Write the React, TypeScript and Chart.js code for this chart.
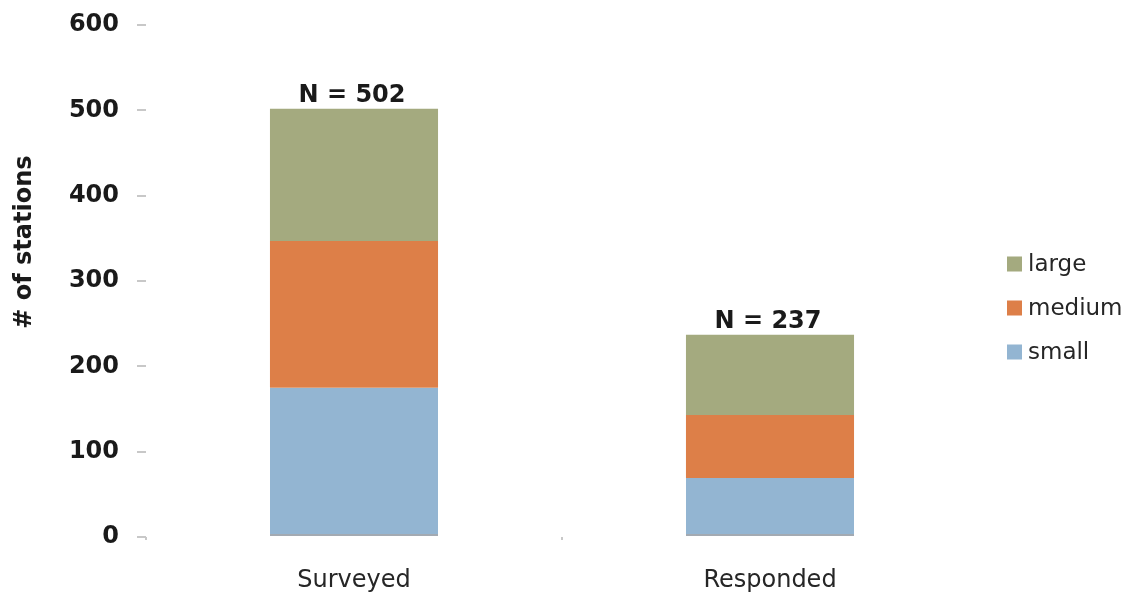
import { useEffect, useRef } from 'react';
import { Chart, registerables } from 'chart.js';

Chart.register(...registerables);

// Station counts by size class
const categories = ['Surveyed', 'Responded'];
const smallStations = [175, 69];
const mediumStations = [172, 74];
const largeStations = [155, 94];

const seriesNames = ['small', 'medium', 'large'];
const seriesColors = ['#93b5d2', '#dd7f48', '#a4aa7f'];

const yMin = 0;
const yMax = 600;
const yStep = 100;
const yTitle = '# of stations';

const FONT = '"DejaVu Sans", "Liberation Sans", sans-serif';

// "N = total" above each stacked column
const totalLabels = {
  id: 'totalLabels',
  afterDatasetsDraw(chart: any) {
    const { ctx, scales } = chart;
    const x = scales.x;
    const y = scales.y;
    ctx.save();
    ctx.font = `bold 24px ${FONT}`;
    ctx.fillStyle = '#1a1a1a';
    ctx.textAlign = 'center';
    ctx.textBaseline = 'alphabetic';
    categories.forEach((_, i) => {
      const total = chart.data.datasets.reduce(
        (sum: number, ds: any) => sum + (ds.data[i] as number),
        0
      );
      const px = x.getPixelForValue(i);
      const py = y.getPixelForValue(total);
      ctx.fillText(`N = ${total}`, px - 2, py - 7);
    });
    ctx.restore();
  },
};

// Rotated y-axis title
const yAxisTitle = {
  id: 'yAxisTitle',
  afterDraw(chart: any) {
    const { ctx, chartArea } = chart;
    ctx.save();
    ctx.translate(25, chartArea.top + (chartArea.bottom - chartArea.top) * 0.424);
    ctx.rotate(-Math.PI / 2);
    ctx.font = `bold 24px ${FONT}`;
    ctx.fillStyle = '#1a1a1a';
    ctx.textAlign = 'center';
    ctx.textBaseline = 'middle';
    ctx.fillText(yTitle, 0, 0);
    ctx.restore();
  },
};

// Legend on the right, largest class first
const sideLegend = {
  id: 'sideLegend',
  afterDraw(chart: any) {
    const { ctx, chartArea } = chart;
    const datasets = chart.data.datasets;
    const boxX = chartArea.right + 29;
    const centerY = (chartArea.top + chartArea.bottom) / 2 + 27;
    const gap = 44;
    ctx.save();
    ctx.font = `23px ${FONT}`;
    ctx.textBaseline = 'middle';
    ctx.textAlign = 'left';
    const order = datasets.map((_: any, i: number) => i).reverse();
    order.forEach((dsIndex: number, row: number) => {
      const cy = centerY + (row - (order.length - 1) / 2) * gap;
      ctx.fillStyle = datasets[dsIndex].backgroundColor;
      ctx.fillRect(boxX, cy - 7.5, 15, 15);
      ctx.fillStyle = '#262626';
      ctx.fillText(datasets[dsIndex].label, boxX + 21, cy + 1);
    });
    ctx.restore();
  },
};

export default function App() {
  const canvasRef = useRef<HTMLCanvasElement | null>(null);

  useEffect(() => {
    document.body.style.margin = '0';
    const canvas = canvasRef.current;
    if (!canvas) return;

    const seriesData = [smallStations, mediumStations, largeStations];

    const chart = new Chart(canvas, {
      type: 'bar',
      data: {
        labels: categories,
        datasets: seriesNames.map((name, i) => ({
          label: name,
          data: seriesData[i],
          backgroundColor: seriesColors[i],
          borderColor: '#a3aab2',
          borderWidth: i === 0 ? { top: 0, left: 0, right: 0, bottom: 2 } : 0,
          borderSkipped: false,
          categoryPercentage: 1,
          barPercentage: 0.404,
        })),
      },
      options: {
        animation: false,
        responsive: true,
        maintainAspectRatio: false,
        layout: { padding: { top: 25, right: 146, left: 0, bottom: 0 } },
        plugins: {
          legend: { display: false },
          tooltip: { enabled: false },
        },
        scales: {
          x: {
            stacked: true,
            grid: {
              offset: true,
              drawOnChartArea: false,
              drawTicks: true,
              tickLength: 3,
              // the closing boundary mark on the right is left out
              color: (ctx: any) =>
                ctx.type === 'tick' ? '#c8c8c8' : 'rgba(0,0,0,0)',
              lineWidth: 2,
            },
            border: { display: false },
            ticks: {
              font: { family: FONT, size: 24 },
              color: '#262626',
              padding: 26,
            },
            afterFit: (scale: any) => {
              scale.height = 57;
              scale.paddingLeft = 0;
              scale.paddingRight = 0;
            },
          },
          y: {
            stacked: true,
            min: yMin,
            max: yMax,
            grid: {
              drawOnChartArea: false,
              drawTicks: true,
              tickLength: 9,
              color: '#c8c8c8',
              lineWidth: 2,
            },
            border: { display: false },
            ticks: {
              stepSize: yStep,
              font: { family: FONT, size: 24, weight: 'bold' },
              color: '#1a1a1a',
              padding: 18,
            },
            afterFit: (scale: any) => {
              scale.width = 146;
              scale.paddingTop = 0;
              scale.paddingBottom = 0;
            },
          },
        },
      },
      plugins: [totalLabels, yAxisTitle, sideLegend],
    });

    return () => chart.destroy();
  }, []);

  return (
    <div style={{ position: 'relative', width: 1124, height: 594, background: '#fff' }}>
      <canvas ref={canvasRef} />
    </div>
  );
}
